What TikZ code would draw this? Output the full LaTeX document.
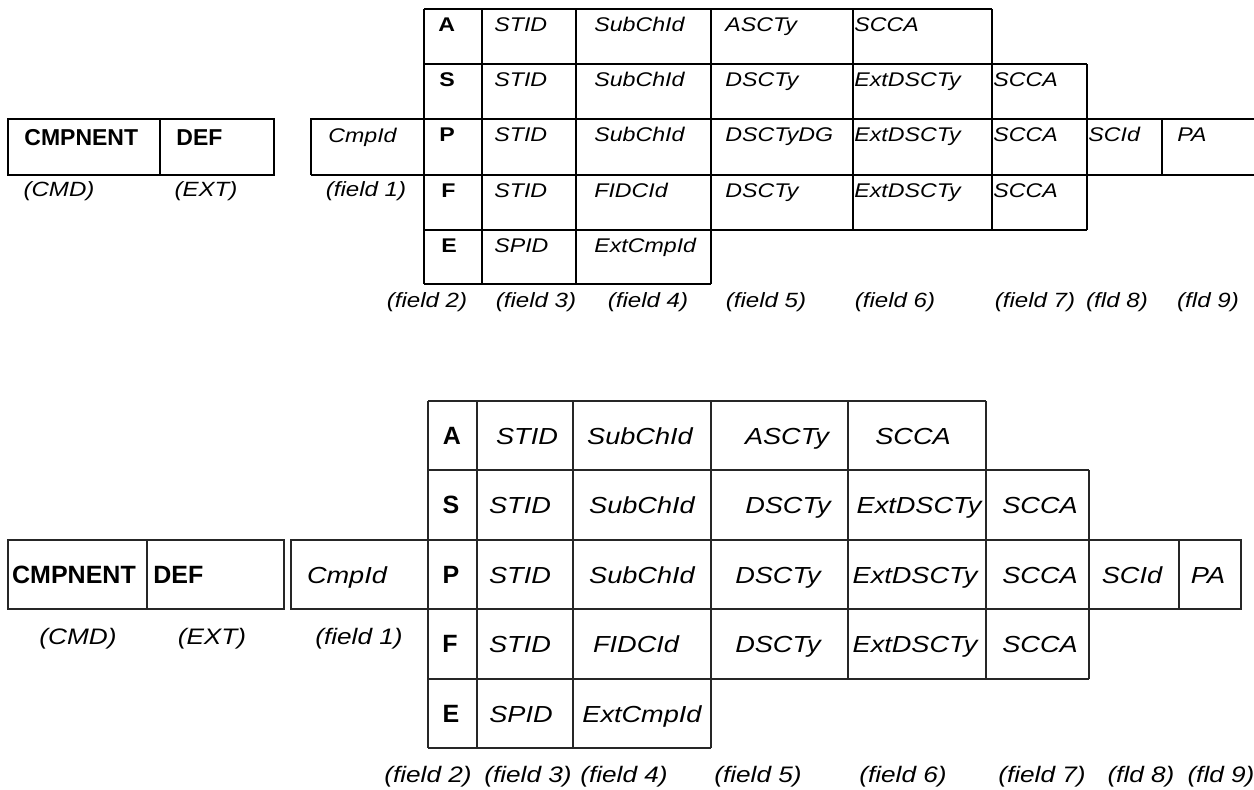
\documentclass[tikz,border=0pt]{standalone}
\usepackage{fontspec}
\setmainfont{Liberation Sans}
\newfontfamily\widesf[FakeStretch=1.17]{Liberation Sans}
\usepackage{tikz}

\begin{document}
\begin{tikzpicture}[x=0.5pt,y=0.5pt]
\tikzstyle{every node}+=[inner sep=0pt]
\tikzstyle{toprule}=[line width=1pt]
\tikzstyle{botrule}=[line width=0.6pt,black!85]
\tikzstyle{topit}=[anchor=base west,font=\widesf\itshape\fontsize{9.9}{11}\selectfont]
\tikzstyle{topbf}=[anchor=base west,font=\widesf\bfseries\fontsize{9.9}{11}\selectfont]
\tikzstyle{topbig}=[anchor=base west,font=\bfseries\fontsize{11.5}{13}\selectfont]
\tikzstyle{toplbl}=[anchor=base,font=\widesf\itshape\fontsize{10.3}{12}\selectfont]
\tikzstyle{botit}=[anchor=base,font=\widesf\itshape\fontsize{11.6}{13}\selectfont]
\tikzstyle{botlbl}=[anchor=base,font=\widesf\itshape\fontsize{11.2}{13}\selectfont]
\tikzstyle{botbf}=[anchor=base,font=\bfseries\fontsize{12.5}{14}\selectfont]
\useasboundingbox (0,0) rectangle (1254,-789);
% upper layout
\draw [toprule] (8,-119) rectangle (274,-175);
\draw [toprule] (160,-119) -- (160,-175);
\draw [toprule] (311,-175) -- (311,-119) -- (1258,-119);
\draw [toprule] (311,-175) -- (1258,-175);
\draw [toprule] (424,-9) -- (992,-9);
\draw [toprule] (424,-64) -- (1087,-64);
\draw [toprule] (424,-230) -- (1087,-230);
\draw [toprule] (424,-284) -- (711,-284);
\draw [toprule] (424,-9) -- (424,-284);
\draw [toprule] (482,-9) -- (482,-284);
\draw [toprule] (576,-9) -- (576,-284);
\draw [toprule] (711,-9) -- (711,-284);
\draw [toprule] (853,-9) -- (853,-230);
\draw [toprule] (992,-9) -- (992,-230);
\draw [toprule] (1087,-64) -- (1087,-230);
\draw [toprule] (1162,-119) -- (1162,-175);
\node [topbig] (tcmp) at (24,-145) {CMPNENT};
\node [topbig] (tdef) at (176,-145) {DEF};
\node [topit] (tcid) at (328,-142) {CmpId};
\node [topbf] (tA) at (438,-31) {A};
\node [topit] (tA3) at (494,-31) {STID};
\node [topit] (tA4) at (594,-31) {SubChId};
\node [topit] (tA5) at (725,-31) {ASCTy};
\node [topit] (tA6) at (854,-31) {SCCA};
\node [topbf] (tS) at (439,-86) {S};
\node [topit] (tS3) at (494,-86) {STID};
\node [topit] (tS4) at (594,-86) {SubChId};
\node [topit] (tS5) at (725,-86) {DSCTy};
\node [topit] (tS6) at (854,-86) {ExtDSCTy};
\node [topit] (tS7) at (993,-86) {SCCA};
\node [topbf] (tP) at (439,-141) {P};
\node [topit] (tP3) at (494,-141) {STID};
\node [topit] (tP4) at (594,-141) {SubChId};
\node [topit] (tP5) at (725,-141) {DSCTyDG};
\node [topit] (tP6) at (854,-141) {ExtDSCTy};
\node [topit] (tP7) at (993,-141) {SCCA};
\node [topit] (tP8) at (1088,-141) {SCId};
\node [topit] (tP9) at (1177,-141) {PA};
\node [topbf] (tF) at (441,-197) {F};
\node [topit] (tF3) at (494,-197) {STID};
\node [topit] (tF4) at (594,-197) {FIDCId};
\node [topit] (tF5) at (725,-197) {DSCTy};
\node [topit] (tF6) at (854,-197) {ExtDSCTy};
\node [topit] (tF7) at (993,-197) {SCCA};
\node [topbf] (tE) at (441,-252) {E};
\node [topit] (tE3) at (494,-252) {SPID};
\node [topit] (tE4) at (594,-252) {ExtCmpId};
\node [toplbl] (tlcmd) at (59,-196) {(CMD)};
\node [toplbl] (tlext) at (206,-196) {(EXT)};
\node [toplbl] (tlf1) at (366,-196) {(field 1)};
\node [toplbl] (tlf2) at (427,-307) {(field 2)};
\node [toplbl] (tlf3) at (536,-307) {(field 3)};
\node [toplbl] (tlf4) at (648,-307) {(field 4)};
\node [toplbl] (tlf5) at (766,-307) {(field 5)};
\node [toplbl] (tlf6) at (895,-307) {(field 6)};
\node [toplbl] (tlf7) at (1035,-307) {(field 7)};
\node [toplbl] (tlf8) at (1117,-307) {(fld 8)};
\node [toplbl] (tlf9) at (1208,-307) {(fld 9)};
% lower layout
\draw [botrule] (8,-540) rectangle (284,-609);
\draw [botrule] (147,-540) -- (147,-609);
\draw [botrule] (291,-609) -- (291,-540) -- (1241,-540) -- (1241,-609) -- cycle;
\draw [botrule] (428,-401) -- (986,-401);
\draw [botrule] (428,-470) -- (1089,-470);
\draw [botrule] (428,-679) -- (1089,-679);
\draw [botrule] (428,-748) -- (711,-748);
\draw [botrule] (428,-401) -- (428,-748);
\draw [botrule] (477,-401) -- (477,-748);
\draw [botrule] (573,-401) -- (573,-748);
\draw [botrule] (711,-401) -- (711,-748);
\draw [botrule] (848,-401) -- (848,-679);
\draw [botrule] (986,-401) -- (986,-679);
\draw [botrule] (1089,-470) -- (1089,-679);
\draw [botrule] (1179,-540) -- (1179,-609);
\node [botbf] (bcmp) at (74,-583) {CMPNENT};
\node [botbf,anchor=base west] (bdef) at (153,-583) {DEF};
\node [botit] (bcid) at (347,-583) {CmpId};
\node [botbf] (bA) at (452,-444) {A};
\node [botit] (bA3) at (527,-444) {STID};
\node [botit] (bA4) at (640,-444) {SubChId};
\node [botit] (bA5) at (787,-444) {ASCTy};
\node [botit] (bA6) at (913,-444) {SCCA};
\node [botbf] (bS) at (451,-513) {S};
\node [botit] (bS3) at (520,-513) {STID};
\node [botit] (bS4) at (642,-513) {SubChId};
\node [botit] (bS5) at (788,-513) {DSCTy};
\node [botit] (bS6) at (919,-513) {ExtDSCTy};
\node [botit] (bS7) at (1040,-513) {SCCA};
\node [botbf] (bP) at (451,-583) {P};
\node [botit] (bP3) at (520,-583) {STID};
\node [botit] (bP4) at (642,-583) {SubChId};
\node [botit] (bP5) at (778,-583) {DSCTy};
\node [botit] (bP6) at (915,-583) {ExtDSCTy};
\node [botit] (bP7) at (1040,-583) {SCCA};
\node [botit] (bP8) at (1132,-583) {SCId};
\node [botit] (bP9) at (1208,-583) {PA};
\node [botbf] (bF) at (450,-652) {F};
\node [botit] (bF3) at (520,-652) {STID};
\node [botit] (bF4) at (636,-652) {FIDCId};
\node [botit] (bF5) at (778,-652) {DSCTy};
\node [botit] (bF6) at (915,-652) {ExtDSCTy};
\node [botit] (bF7) at (1040,-652) {SCCA};
\node [botbf] (bE) at (451,-722) {E};
\node [botit] (bE3) at (521,-722) {SPID};
\node [botit] (bE4) at (642,-722) {ExtCmpId};
\node [botlbl] (blcmd) at (78,-644) {(CMD)};
\node [botlbl] (blext) at (212,-644) {(EXT)};
\node [botlbl] (blf1) at (359,-644) {(field 1)};
\node [botlbl] (blf2) at (428,-782) {(field 2)};
\node [botlbl] (blf3) at (528,-782) {(field 3)};
\node [botlbl] (blf4) at (624,-782) {(field 4)};
\node [botlbl] (blf5) at (758,-782) {(field 5)};
\node [botlbl] (blf6) at (903,-782) {(field 6)};
\node [botlbl] (blf7) at (1042,-782) {(field 7)};
\node [botlbl] (blf8) at (1141,-782) {(fld 8)};
\node [botlbl] (blf9) at (1221,-782) {(fld 9)};
\end{tikzpicture}
\end{document}
